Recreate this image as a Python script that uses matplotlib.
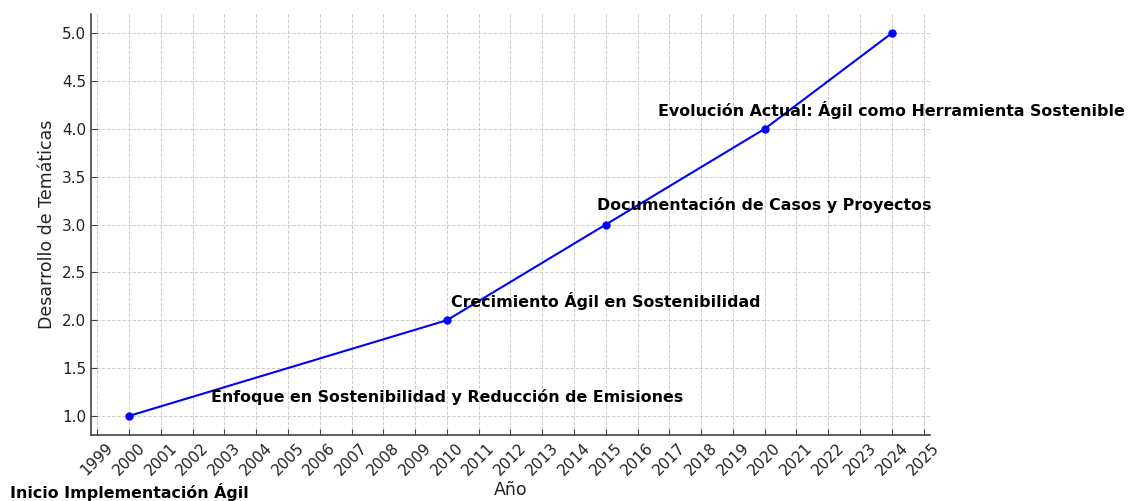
import matplotlib
matplotlib.use("Agg")
import matplotlib.pyplot as plt
import numpy as np

years = [2000, 2010, 2015, 2020, 2024]
values = [1, 2, 3, 4, 5]
events = [
    "Inicio Implementación Ágil",
    "Enfoque en Sostenibilidad y Reducción de Emisiones",
    "Crecimiento Ágil en Sostenibilidad",
    "Documentación de Casos y Proyectos",
    "Evolución Actual: Ágil como Herramienta Sostenible",
]
xticks = list(range(1999, 2026))

fig = plt.figure(figsize=(11.29, 5.01), dpi=100)
ax = fig.add_axes([0.0806, 0.1317, 0.7431, 0.8403])

ax.plot(years, values, marker="o", color="blue", linewidth=1.5, markersize=5)

for year, val, txt in zip(years, values, events):
    ax.text(year, val - 0.8, txt, ha="center", va="center",
            fontsize=11.4, fontweight="bold", color="black", clip_on=False)

ax.set_xticks(xticks)
ax.set_xticklabels([str(y) for y in xticks], rotation=45)
ax.set_xlabel("Año", fontsize=12.5, color="#222222", labelpad=2)
ax.set_ylabel("Desarrollo de Temáticas", fontsize=12.5, color="#222222")

ax.grid(True, linestyle="--", color="#cccccc", linewidth=0.7)
ax.spines["top"].set_visible(False)
ax.spines["right"].set_visible(False)
for s in ("left", "bottom"):
    ax.spines[s].set_color("#444444")
    ax.spines[s].set_linewidth(1.2)
ax.tick_params(direction="in", length=4, colors="#444444", labelsize=11,
               labelcolor="#222222")

fig.savefig("out.png", dpi=100)
